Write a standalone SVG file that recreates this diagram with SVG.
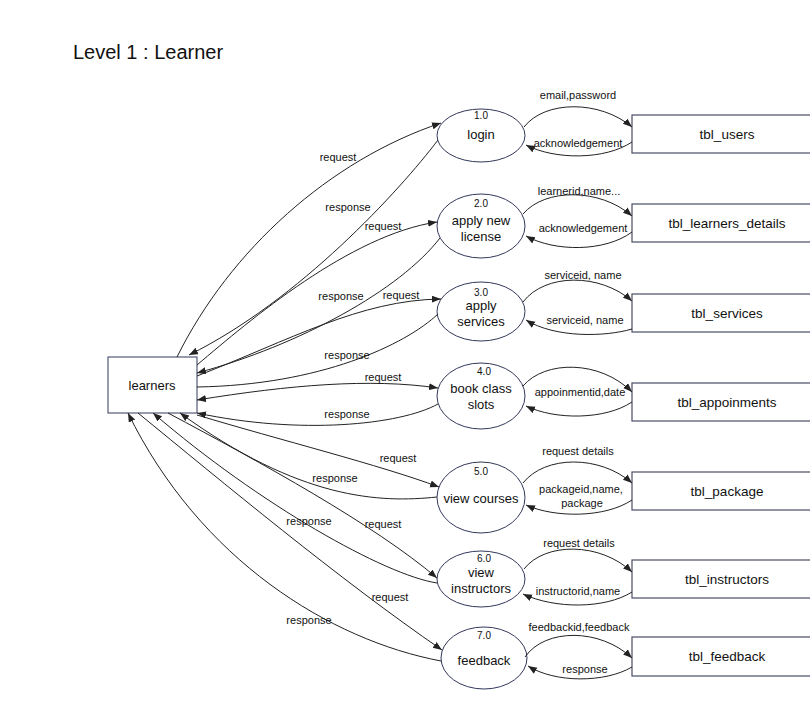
<svg xmlns="http://www.w3.org/2000/svg" width="810" height="727" viewBox="0 0 810 727">
<style>
text{font-family:"Liberation Sans",Arial,sans-serif;fill:#111;text-anchor:middle}
.title{font-size:20px;text-anchor:start}
.proc{fill:#fff;stroke:#33385a;stroke-width:1}
.store{fill:#fff;stroke:#4a4d66;stroke-width:1.2}
.ent{fill:#fff;stroke:#33385a;stroke-width:1}
.num{font-size:10px}
.pl{font-size:13px}
.tl{font-size:13.5px}
.el{font-size:11px}
.c path{fill:none;stroke:#222;stroke-width:1}
</style>
<defs>
<marker id="ar" markerUnits="userSpaceOnUse" markerWidth="10" markerHeight="8" refX="9" refY="3.5" orient="auto-start-reverse">
<path d="M0,0 L9,3.5 L0,7 z" fill="#222"/>
</marker>
</defs>
<rect width="810" height="727" fill="#fff"/>
<text class="title" x="73" y="59">Level 1 : Learner</text>

<g id="learners"><rect class="ent" x="108" y="357" width="89" height="56"/><text class="pl" x="152" y="390">learners</text></g>

<g id="p1"><ellipse class="proc" cx="481" cy="135.5" rx="44" ry="26.5"/><text class="num" x="481" y="119">1.0</text><text class="pl" x="481" y="139">login</text></g>
<g id="p2"><ellipse class="proc" cx="481" cy="226" rx="44" ry="32"/><text class="num" x="481" y="207">2.0</text><text class="pl" x="481" y="225">apply new</text><text class="pl" x="481" y="241">license</text></g>
<g id="p3"><ellipse class="proc" cx="481" cy="311.5" rx="44" ry="29.5"/><text class="num" x="481" y="296">3.0</text><text class="pl" x="481" y="310">apply</text><text class="pl" x="481" y="326">services</text></g>
<g id="p4"><ellipse class="proc" cx="481" cy="396" rx="44" ry="33"/><text class="num" x="484" y="375">4.0</text><text class="pl" x="481" y="393">book class</text><text class="pl" x="481" y="409">slots</text></g>
<g id="p5"><ellipse class="proc" cx="481" cy="497.5" rx="44" ry="35.5"/><text class="num" x="481" y="475">5.0</text><text class="pl" x="481" y="503">view courses</text></g>
<g id="p6"><ellipse class="proc" cx="481" cy="579" rx="44" ry="28"/><text class="num" x="484" y="562">6.0</text><text class="pl" x="481" y="577">view</text><text class="pl" x="481" y="593">instructors</text></g>
<g id="p7"><ellipse class="proc" cx="484" cy="658" rx="43" ry="31"/><text class="num" x="484" y="639">7.0</text><text class="pl" x="484" y="665">feedback</text></g>

<g id="s1"><rect class="store" x="632" y="115" width="190" height="38"/><text class="tl" x="727" y="139">tbl_users</text></g>
<g id="s2"><rect class="store" x="632" y="204" width="190" height="38"/><text class="tl" x="727" y="228">tbl_learners_details</text></g>
<g id="s3"><rect class="store" x="632" y="294" width="190" height="38"/><text class="tl" x="727" y="318">tbl_services</text></g>
<g id="s4"><rect class="store" x="632" y="383" width="190" height="38"/><text class="tl" x="727" y="407">tbl_appoinments</text></g>
<g id="s5"><rect class="store" x="632" y="472" width="190" height="38"/><text class="tl" x="727" y="496">tbl_package</text></g>
<g id="s6"><rect class="store" x="632" y="560" width="190" height="38"/><text class="tl" x="727" y="584">tbl_instructors</text></g>
<g id="s7"><rect class="store" x="632" y="637" width="190" height="39"/><text class="tl" x="727" y="661">tbl_feedback</text></g>

<g id="connectors" class="c">
<path d="M177,357 C230,250 330,160 441,123" marker-end="url(#ar)"/>
<path d="M438,140 C400,190 300,300 189,355" marker-end="url(#ar)"/>
<path d="M197,365 C250,320 350,235 437,222" marker-end="url(#ar)"/>
<path d="M440,238 C400,290 300,345 197,373" marker-end="url(#ar)"/>
<path d="M197,376 C290,340 360,300 441,299" marker-end="url(#ar)"/>
<path d="M438,314 C405,345 320,385 197,387"/>
<path d="M197,400 C290,385 370,378 438,388" marker-start="url(#ar)" marker-end="url(#ar)"/>
<path d="M438,404 C400,425 300,435 197,413" marker-end="url(#ar)"/>
<path d="M197,415 C280,440 380,465 439,487" marker-end="url(#ar)"/>
<path d="M437,497 C380,503 300,500 180,413" marker-end="url(#ar)"/>
<path d="M168,413 C260,462 375,525 437,578" marker-end="url(#ar)"/>
<path d="M437,583 C385,575 260,505 153,413" marker-end="url(#ar)"/>
<path d="M138,413 C220,480 340,580 442,650" marker-end="url(#ar)"/>
<path d="M441,661 C330,640 200,560 128,413" marker-end="url(#ar)"/>

<path d="M524,127 C545,100 600,100 632,127" marker-end="url(#ar)"/>
<path d="M632,142 C605,160 555,160 526,145" marker-end="url(#ar)"/>
<path d="M523,214 C545,188 600,188 632,216" marker-end="url(#ar)"/>
<path d="M632,232 C605,252 555,252 526,236" marker-end="url(#ar)"/>
<path d="M523,302 C545,273 600,273 632,301" marker-end="url(#ar)"/>
<path d="M632,329 C605,337 555,338 526,320" marker-end="url(#ar)"/>
<path d="M523,386 C545,360 600,360 632,392" marker-end="url(#ar)"/>
<path d="M632,402 C605,420 555,420 526,406" marker-end="url(#ar)"/>
<path d="M523,483 C545,455 600,455 632,483" marker-end="url(#ar)"/>
<path d="M632,500 C605,518 555,518 526,505" marker-end="url(#ar)"/>
<path d="M524,569 C545,542 600,542 632,572" marker-end="url(#ar)"/>
<path d="M632,592 C605,609 555,609 523,594" marker-end="url(#ar)"/>
<path d="M525,657 C545,628 600,628 632,658" marker-end="url(#ar)"/>
<path d="M632,667 C605,683 555,683 528,666" marker-end="url(#ar)"/>
</g>

<g id="labels" class="el">
<text class="el" x="338" y="161">request</text>
<text class="el" x="348" y="211">response</text>
<text class="el" x="383" y="230">request</text>
<text class="el" x="341" y="300">response</text>
<text class="el" x="401" y="299">request</text>
<text class="el" x="347" y="359">response</text>
<text class="el" x="383" y="381">request</text>
<text class="el" x="347" y="418">response</text>
<text class="el" x="398" y="462">request</text>
<text class="el" x="335" y="482">response</text>
<text class="el" x="383" y="528">request</text>
<text class="el" x="309" y="525">response</text>
<text class="el" x="390" y="601">request</text>
<text class="el" x="309" y="624">response</text>

<text class="el" x="578" y="99">email,password</text>
<text class="el" x="578" y="147">acknowledgement</text>
<text class="el" x="579" y="195">learnerid,name...</text>
<text class="el" x="583" y="232">acknowledgement</text>
<text class="el" x="583" y="279">serviceid, name</text>
<text class="el" x="585" y="324">serviceid, name</text>
<text class="el" x="580" y="396">appoinmentid,date</text>
<text class="el" x="578" y="455">request details</text>
<text class="el" x="581" y="493">packageid,name,</text>
<text class="el" x="582" y="507">package</text>
<text class="el" x="579" y="547">request details</text>
<text class="el" x="578" y="595">instructorid,name</text>
<text class="el" x="579" y="631">feedbackid,feedback</text>
<text class="el" x="585" y="673">response</text>
</g>
</svg>
